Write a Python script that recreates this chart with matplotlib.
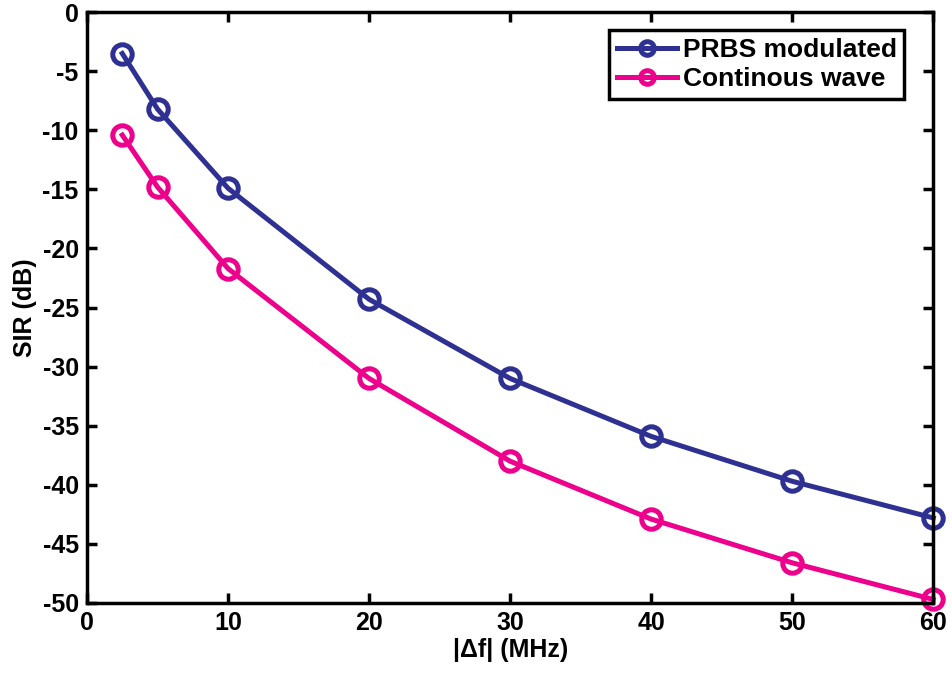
import numpy as np
import matplotlib.pyplot as plt
from matplotlib import font_manager

# data
df_mhz = [2.5, 5, 10, 20, 30, 40, 50, 60]
sir_prbs = [-3.5, -8.2, -14.9, -24.3, -31.0, -35.9, -39.7, -42.8]
sir_cw = [-10.4, -14.8, -21.7, -31.0, -38.0, -42.9, -46.6, -49.7]
x_ticks = [0, 10, 20, 30, 40, 50, 60]
y_ticks = [0, -5, -10, -15, -20, -25, -30, -35, -40, -45, -50]

names = {f.name for f in font_manager.fontManager.ttflist}
font = 'Liberation Sans Narrow' if 'Liberation Sans Narrow' in names else 'Liberation Sans'
plt.rcParams['font.family'] = [font, 'DejaVu Sans']
plt.rcParams['font.weight'] = 'bold'
plt.rcParams['axes.unicode_minus'] = False

fig = plt.figure(figsize=(9.53, 6.76), dpi=100)
ax = fig.add_axes([0.0913, 0.108, 0.888, 0.874])

ax.plot(df_mhz, sir_prbs, '-o', color='#2E3192', lw=3.6, ms=14, mfc='none', mew=3.6,
        label='PRBS modulated', clip_on=False)
ax.plot(df_mhz, sir_cw, '-o', color='#EC008C', lw=3.6, ms=14, mfc='none', mew=3.6,
        label='Continous wave', clip_on=False)

ax.set_xlim(0, 60)
ax.set_ylim(-50, 0)
ax.set_xticks(x_ticks)
ax.set_yticks(y_ticks)
ax.tick_params(direction='in', length=7, width=2.5, labelsize=18, top=True, right=True, pad=6)
for s in ax.spines.values():
    s.set_linewidth(2.5)

ax.set_xlabel('|Δf| (MHz)', fontsize=18, fontweight='bold', labelpad=2)
ax.set_ylabel('SIR (dB)', fontsize=18, fontweight='bold', labelpad=4)

leg = ax.legend(loc='upper right', bbox_to_anchor=(0.966, 0.97), fontsize=19,
                fancybox=False, framealpha=1, edgecolor='black', borderpad=0.3,
                handlelength=2.3, handletextpad=0.2, labelspacing=0.2, borderaxespad=0,
                markerscale=0.7)
leg.get_frame().set_linewidth(2.5)
for t in leg.get_texts():
    t.set_fontweight('bold')

fig.savefig('out.png', dpi=100)
